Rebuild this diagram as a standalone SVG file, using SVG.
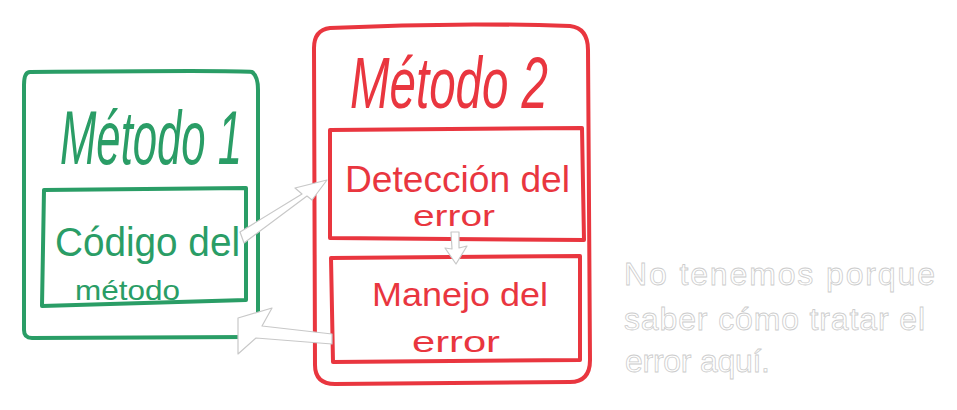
<svg xmlns="http://www.w3.org/2000/svg" width="957" height="410" viewBox="0 0 957 410">
  <style>
    .green { stroke: #2a9d66; fill: none; stroke-width: 4; stroke-linejoin: round; stroke-linecap: round; }
    .red { stroke: #e9363f; fill: none; stroke-width: 4; stroke-linejoin: round; stroke-linecap: round; }
    .hollow { stroke: #c8c8c8; fill: #ffffff; stroke-width: 1.2; stroke-linejoin: round; }
    .title { font-family: "Liberation Sans", "DejaVu Sans", sans-serif; font-style: italic; }
    .label { font-family: "Liberation Sans", "DejaVu Sans", sans-serif; }
    .g { fill: #2a9d66; }
    .r { fill: #e9363f; }
    .note { font-family: "Liberation Sans", "DejaVu Sans", sans-serif; font-size: 32px; fill: #ffffff; stroke: #cccccc; stroke-width: 0.8; }
  </style>
  <rect width="957" height="410" fill="#ffffff"/>

  <g id="metodo1">
    <path class="green" d="M30 72 Q240 70 252 72 Q258 76 258 90 L258 320 Q258 337 250 337 L32 338 Q24 338 24 330 L24 85 Q24 72 30 72 Z"/>
    <!-- tall handwritten title: stretched vertically about its baseline -->
    <g transform="translate(0 164) scale(1 1.3) translate(0 -164)">
      <text class="title g" x="60" y="164" font-size="58" textLength="182" lengthAdjust="spacingAndGlyphs">Método 1</text>
    </g>
  </g>

  <g id="codigo">
    <path class="green" d="M44 190 L246 188 L246 300 L42 306 Z"/>
    <text class="label g" x="55" y="256" font-size="40" textLength="185" lengthAdjust="spacingAndGlyphs">Código del</text>
    <text class="label g" x="75" y="300" font-size="28" textLength="105" lengthAdjust="spacingAndGlyphs">método</text>
  </g>

  <g id="metodo2">
    <path class="red" d="M330 28 Q450 22 570 26 Q588 28 588 50 L590 360 Q590 382 570 382 L335 384 Q315 384 315 365 L314 48 Q314 30 330 28 Z"/>
    <g transform="translate(0 108) scale(1 1.3) translate(0 -108)">
      <text class="title r" x="350" y="108" font-size="56" textLength="198" lengthAdjust="spacingAndGlyphs">Método 2</text>
    </g>
  </g>

  <g id="deteccion">
    <path class="red" d="M330 130 L582 128 L584 240 L330 238 Z"/>
    <text class="label r" x="345" y="192" font-size="36" textLength="225" lengthAdjust="spacingAndGlyphs">Detección del</text>
    <text class="label r" x="413" y="226" font-size="30" textLength="82" lengthAdjust="spacingAndGlyphs">error</text>
  </g>

  <g id="manejo">
    <path class="red" d="M331 258 L580 256 L580 360 L333 362 Z"/>
    <text class="label r" x="372" y="306" font-size="34" textLength="176" lengthAdjust="spacingAndGlyphs">Manejo del</text>
    <text class="label r" x="412" y="352" font-size="30" textLength="88" lengthAdjust="spacingAndGlyphs">error</text>
  </g>

  <g id="connectors">
    <!-- código → detección -->
    <path class="hollow" d="M240 232 L302 194 L295 188 L327 180 L312 200 L307 196 L244 243 Z"/>
    <!-- detección → manejo -->
    <path class="hollow" d="M451 232 L459 232 L459 248 L467 246 L456 264 L445 248 L452 249 Z"/>
    <!-- manejo → código -->
    <path class="hollow" d="M332 334 L262 326 L272 308 L238 318 L238 354 L256 338 L332 344 Z"/>
  </g>

  <g id="nota">
    <text class="note" x="624" y="285" textLength="311" lengthAdjust="spacing">No  tenemos  porque</text>
    <text class="note" x="624" y="330" textLength="301" lengthAdjust="spacing">saber  cómo  tratar  el</text>
    <text class="note" x="625" y="372" textLength="145" lengthAdjust="spacing">error  aquí.</text>
  </g>
</svg>
